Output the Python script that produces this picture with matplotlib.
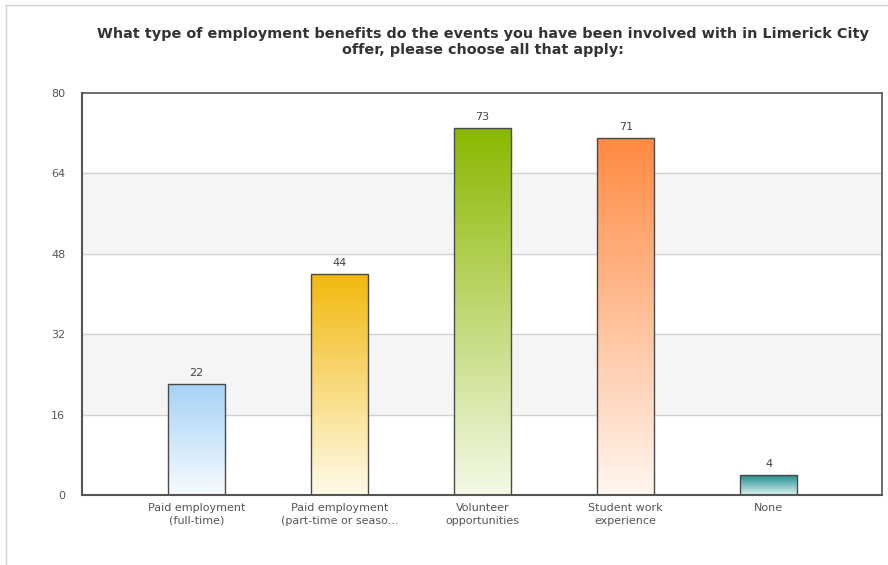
import matplotlib.pyplot as plt
import numpy as np
from matplotlib.colors import LinearSegmentedColormap
from matplotlib.lines import Line2D

categories = ["Paid employment\n(full-time)", "Paid employment\n(part-time or seaso...",
              "Volunteer\nopportunities", "Student work\nexperience", "None"]
values = [22, 44, 73, 71, 4]
top_colors = ["#a6d2f6", "#f2b80c", "#8ab800", "#ff8a42", "#16898a"]
bottom_colors = ["#f6fbff", "#fffbea", "#f4f9e6", "#fff6f0", "#dcf0f0"]
yticks = [0, 16, 32, 48, 64, 80]

fig = plt.figure(figsize=(8.88, 5.65), dpi=100)
ax = fig.add_axes([0.0923, 0.1239, 0.9007, 0.7115])

# outer frame lines
fig.add_artist(Line2D([6/888, 1], [1 - 5/565, 1 - 5/565], color="#d0d0d0", lw=1))
fig.add_artist(Line2D([6/888, 6/888], [0, 1 - 5/565], color="#d0d0d0", lw=1))

ax.set_xlim(-0.8, 4.79)
ax.set_ylim(0, 80)

# alternating bands
for lo in (16, 48):
    ax.axhspan(lo, lo + 16, color="#f5f5f5", zorder=0)
for y in yticks[1:-1]:
    ax.axhline(y, color="#d2d2d2", lw=1, zorder=1)

width = 0.4
for i, (v, c1, c2) in enumerate(zip(values, top_colors, bottom_colors)):
    cmap = LinearSegmentedColormap.from_list("g%d" % i, [c2, c1])
    grad = np.linspace(0, 1, 256).reshape(-1, 1)
    im = ax.imshow(grad, cmap=cmap, aspect="auto", origin="lower",
                   extent=(i - width / 2, i + width / 2, 0, v), zorder=2)
    bar = ax.bar(i, v, width=width, facecolor="none", edgecolor="#4a4a4a",
                 lw=1, zorder=3)[0]
    im.set_clip_path(bar)
    ax.text(i, v + 1.2, str(v), ha="center", va="bottom", fontsize=8,
            color="#444444")

ax.set_xticks(range(len(categories)))
ax.set_xticklabels(categories, fontsize=8, color="#555555", linespacing=1.3)
ax.set_yticks(yticks)
ax.set_yticklabels([str(t) for t in yticks], fontsize=8, color="#555555")
ax.tick_params(axis="x", length=0, pad=6)
ax.tick_params(axis="y", length=0, pad=12)

for name, sp in ax.spines.items():
    sp.set_color("#555555")
    sp.set_linewidth(1.5 if name in ("left", "bottom") else 1.2)
    sp.set_zorder(5)

fig.text(0.544, 0.926, "What type of employment benefits do the events you have been involved with in Limerick City\noffer, please choose all that apply:",
         ha="center", va="center", fontsize=10.4, fontweight="bold",
         color="#333333", linespacing=1.2)

fig.savefig("out.png", dpi=100)
